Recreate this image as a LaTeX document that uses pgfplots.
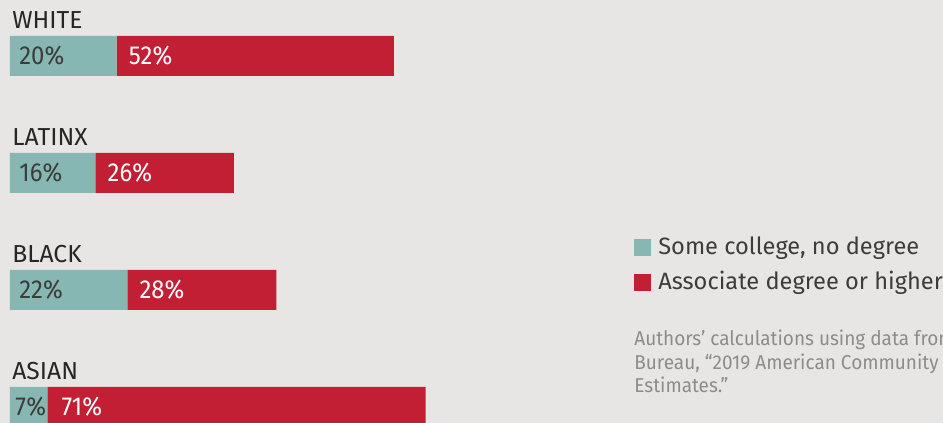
\documentclass[border=0pt]{standalone}
\usepackage{pgfplots}
\pgfplotsset{compat=1.18}
\usepackage{fontspec}
\setmainfont{Fira Sans}
\newfontfamily\narrowsans[FakeStretch=0.92]{Fira Sans}
\newfontfamily\srcsans[FakeStretch=0.95]{Fira Sans}
\definecolor{bgc}{HTML}{E8E6E4}
\definecolor{somecol}{HTML}{86B7B3}
\definecolor{assoc}{HTML}{C21F35}
\definecolor{darktxt}{HTML}{3C3C3C}
\definecolor{srcgray}{HTML}{8C8C8C}
\newcommand\catfont{\fontsize{12.3}{14}\selectfont}
\newcommand\valfont{\narrowsans\fontsize{13}{15}\selectfont}
\newcommand\srcfont{\srcsans\fontsize{10}{11.75}\selectfont}
\begin{document}
\begin{tikzpicture}
\fill[bgc] (0,0) rectangle (471.5pt,211.5pt);
\begin{scope}
\clip (0,0) rectangle (471.5pt,211.5pt);
\begin{axis}[
  at={(0,0)}, anchor=south west,
  scale only axis, width=471.5pt, height=211.5pt,
  hide axis,
  xbar stacked, bar width=20pt,
  xmin=-1.876, xmax=175.05,
  ymin=-0.1368, ymax=3.4786,
  legend style={at={(axis cs:117.07,1.458)}, anchor=north west,
    draw=none, fill=none, inner sep=0pt, row sep=7pt, column sep=3.5pt,
    font=\fontsize{11.8}{14}\selectfont, text=darktxt,
    nodes={inner sep=0pt}},
  legend cell align=left,
  legend image code/.code={\fill[#1] (0pt,-4.5pt) rectangle (8.5pt,4pt);},
]
\addplot[fill=somecol, draw=none] coordinates {(7,0) (22,1) (16,2) (20,3)};
\addplot[fill=assoc, draw=none] coordinates {(71,0) (28,1) (26,2) (52,3)};
\legend{Some college{,} no degree, Associate degree or higher}

% anchors for the labels
\coordinate (w0) at (axis cs:0,3);  \coordinate (w1) at (axis cs:20,3);
\coordinate (l0) at (axis cs:0,2);  \coordinate (l1) at (axis cs:16,2);
\coordinate (b0) at (axis cs:0,1);  \coordinate (b1) at (axis cs:22,1);
\coordinate (a0) at (axis cs:0,0);  \coordinate (a1) at (axis cs:7,0);
\coordinate (src) at (axis cs:117.07,0.524);

% category labels
\node[anchor=base west, inner sep=0pt, text=black!85, font=\catfont] at (axis cs:0.375,3.2308) {WHITE};
\node[anchor=base west, inner sep=0pt, text=black!85, font=\catfont] at (axis cs:0.375,2.2308) {LATINX};
\node[anchor=base west, inner sep=0pt, text=black!85, font=\catfont] at (axis cs:0.375,1.2308) {BLACK};
\node[anchor=base west, inner sep=0pt, text=black!85, font=\catfont] at (axis cs:0.375,0.2308) {ASIAN};
\end{axis}

% value labels
\begin{scope}[every node/.style={anchor=west, inner sep=0pt, font=\valfont}]
\node[text=darktxt, xshift=4.5pt] at (w0) {20\%};
\node[text=white, xshift=6pt] at (w1) {52\%};
\node[text=darktxt, xshift=4.5pt] at (l0) {16\%};
\node[text=white, xshift=6pt] at (l1) {26\%};
\node[text=darktxt, xshift=4.5pt] at (b0) {22\%};
\node[text=white, xshift=6pt] at (b1) {28\%};
\node[text=darktxt, xshift=2.5pt] at (a0) {7\%};
\node[text=white, xshift=7pt] at (a1) {71\%};
\end{scope}

% source note
\begin{scope}[every node/.style={anchor=base west, inner sep=0pt, text=srcgray, font=\srcfont}]
\node at (src) {Authors’ calculations using data from the U.S. Census};
\node at ([yshift=-11.75pt]src) {Bureau, “2019 American Community Survey 1-Year};
\node at ([yshift=-23.5pt]src) {Estimates.”};
\end{scope}
\end{scope}
\pgfresetboundingbox
\useasboundingbox (0,0) rectangle (471.5pt,211.5pt);
\end{tikzpicture}
\end{document}
